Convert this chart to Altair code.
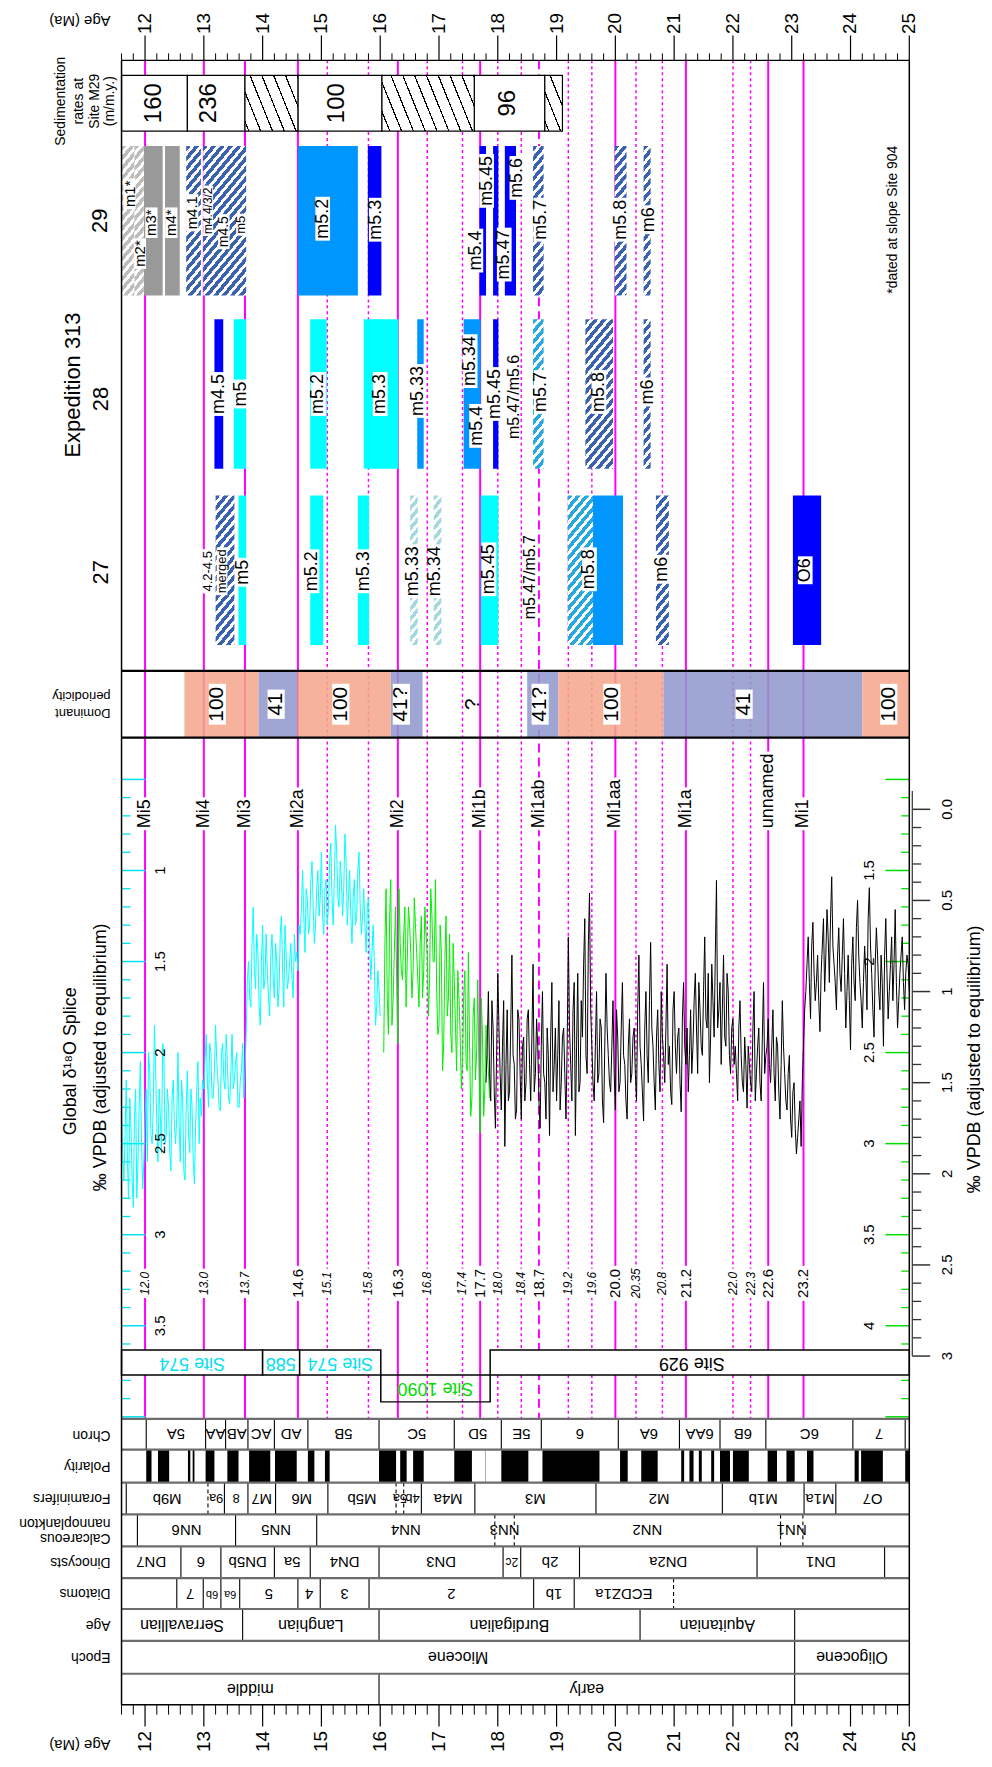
import math
import altair as alt
import pandas as pd

FONT = "Liberation Sans"

# ======================= DATA =======================
AGE_MAJOR = list(range(12, 26))
AGE_MINOR = [round(11.6 + 0.2 * i, 1) for i in range(68)]

LINE_AGES = [12.0, 13.0, 13.7, 14.6, 15.1, 15.8, 16.3, 16.8, 17.4, 17.7, 18.0, 18.4, 18.7,
             19.2, 19.6, 20.0, 20.35, 20.8, 21.2, 22.0, 22.3, 22.6, 23.2]
LINE_TEXT = ["12.0", "13.0", "13.7", "14.6", "15.1", "15.8", "16.3", "16.8", "17.4", "17.7", "18.0",
             "18.4", "18.7", "19.2", "19.6", "20.0", "20.35", "20.8", "21.2", "22.0", "22.3", "22.6", "23.2"]
LINE_KIND = ["solid", "solid", "solid", "solid", "dot", "dot", "solid", "dot", "dot", "solid", "dot",
             "dot", "dash", "dot", "dot", "solid", "dot", "dot", "solid", "dot", "dot", "solid", "solid"]
LINE_LABEL_BIG = [14.6, 16.3, 17.7, 18.7, 20.0, 21.2, 22.6, 23.2]

MI_AGES = [12.0, 13.0, 13.7, 14.6, 16.3, 17.7, 18.7, 20.0, 21.2, 22.6, 23.2]
MI_NAMES = ["Mi5", "Mi4", "Mi3", "Mi2a", "Mi2", "Mi1b", "Mi1ab", "Mi1aa", "Mi1a", "unnamed", "Mi1"]

SED_START = [11.6, 12.72, 13.70, 14.60, 16.03, 17.60, 18.80]
SED_END = [12.72, 13.70, 14.60, 16.03, 17.60, 18.80, 19.10]
SED_RATE = ["160", "236", "", "100", "", "96", ""]
SED_RATE_AGE = [12.16, 13.08, 0, 15.27, 0, 18.17, 0]

EXP_BARS = {
    29: dict(start=[11.60, 11.82, 11.98, 12.34, 12.70, 12.99, 14.60, 15.79, 17.69, 17.92, 18.12, 18.60, 19.99, 20.48],
             end=[11.82, 11.98, 12.30, 12.59, 12.95, 13.72, 15.62, 16.02, 17.80, 18.01, 18.31, 18.78, 20.19, 20.60],
             fill=["lgray_h", "lgray_h", "gray", "gray", "blue_h", "blue_h", "dodger", "blue", "blue", "blue",
                   "blue", "blue_h", "blue_h", "blue_h"]),
    28: dict(start=[13.18, 13.51, 14.81, 15.72, 16.63, 17.42, 17.92, 18.60, 19.49, 20.48],
             end=[13.33, 13.72, 15.09, 16.31, 16.74, 17.71, 18.01, 18.78, 19.96, 20.60],
             fill=["blue", "cyan", "cyan", "cyan", "dodger", "dodger", "blue", "lblue_h", "blue_h", "blue_h"]),
    27: dict(start=[13.20, 13.59, 14.81, 15.62, 16.51, 16.91, 17.71, 19.19, 19.62, 20.69, 23.02],
             end=[13.52, 13.72, 15.03, 15.81, 16.64, 17.04, 18.01, 19.62, 20.13, 20.91, 23.50],
             fill=["blue_h", "cyan", "cyan", "cyan", "pale_h", "pale_h", "cyan", "lblue_h", "dodger", "blue_h", "blue"]),
}
EXP_LABELS = {
    29: dict(text=["m1*", "m2*", "m3*", "m4*", "m4.1", "m4.4/3/2", "m4.5", "m5", "m5.2", "m5.3", "m5.4",
                   "m5.45", "m5.47", "m5.6", "m5.7", "m5.8", "m6"],
             age=[11.736, 11.913, 12.108, 12.447, 12.803, 13.074, 13.340, 13.640, 15.022, 15.933, 17.627,
                  17.810, 18.110, 18.325, 18.732, 20.094, 20.578]),
    28: dict(text=["m4.5", "m5", "m5.2", "m5.3", "m5.33", "m5.34", "m5.4", "m5.45", "m5.47/m5.6", "m5.7",
                   "m5.8", "m6"],
             age=[13.26, 13.64, 14.95, 16.00, 16.65, 17.53, 17.64, 17.95, 18.28, 18.74, 19.72, 20.56]),
    27: dict(text=["4.2-4.5", "merged", "m5", "m5.2", "m5.3", "m5.33", "m5.34", "m5.45", "m5.47/m5.7",
                   "m5.8", "m6", "O6"],
             age=[13.07, 13.31, 13.66, 14.84, 15.73, 16.56, 16.94, 17.85, 18.54, 19.56, 20.80, 23.23]),
}

PER_START = [12.67, 13.93, 14.59, 16.18, 16.72, 18.50, 19.03, 20.82, 24.20]
PER_END = [13.93, 14.59, 16.18, 16.72, 18.50, 19.03, 20.82, 24.20, 25.00]
PER_CYCLE = ["100", "41", "100", "41?", "?", "41?", "100", "41", "100"]
PER_LABEL_AGE = [13.23, 14.23, 15.33, 16.36, 17.58, 18.72, 19.94, 22.19, 24.65]

# delta18O splice (per mil): two interleaved sample sets,
# set A at start + 0.04*i, set B at start + 0.02 + 0.04*i
CYAN_START = 11.60
CYAN_A = [2.3, 2.7, 2.15, 2.8, 2.4, 2.85, 2.2, 2.6, 2.05, 2.75,
          2.35, 2.6, 2.1, 2.5, 1.85, 2.4, 2.2, 2.55, 2.0, 2.45, 2.3, 2.65, 2.15,
          2.5, 2.0, 2.6, 2.25, 2.7, 2.1, 2.55, 2.3, 2.72, 2.2, 2.5, 2.35,
          2.2, 1.9, 2.3, 2.0, 2.25, 1.85, 2.15, 2.32, 1.95, 2.2, 2.05, 2.28, 1.9, 2.15, 2.0, 2.3, 2.1, 2.25,
          1.9, 1.5, 1.75, 1.2, 1.65, 1.45, 1.85, 1.3, 1.6, 1.55, 1.8, 1.35, 1.7, 1.5, 1.65, 1.25, 1.75,
          1.45, 1.6, 1.4, 1.7, 1.5, 1.55,
          1.35, 1.0, 1.45, 1.15, 1.3, 0.95, 1.4, 1.1, 1.25, 0.9, 1.35, 1.05, 1.2, 0.85, 1.3, 0.75, 1.15,
          0.95, 1.25, 0.8, 1.3, 1.0, 1.4, 1.05, 1.25, 0.9, 1.35, 1.1, 1.45, 1.15, 1.6, 1.3,
          1.85, 1.55, 1.8]
CYAN_B = [2.55, 2.45, 2.6, 2.25, 2.7, 2.35, 2.8, 2.3, 2.5, 2.6,
          2.2, 2.0, 2.45, 2.3, 2.1, 2.6, 2.35, 1.95, 2.5, 2.2, 2.55, 2.25, 2.4,
          2.35, 2.4, 2.15, 2.65, 2.3, 2.45, 2.2, 2.6, 2.4, 2.05, 2.25, 2.15,
          2.05, 2.15, 1.95, 2.25, 2.1, 2.05, 2.3, 2.0, 2.15, 1.9, 2.25, 2.1, 2.2, 2.05, 2.3, 2.15, 1.95, 2.1,
          1.6, 1.7, 1.4, 1.55, 1.35, 1.75, 1.5, 1.65, 1.35, 1.7, 1.45, 1.6, 1.4, 1.75, 1.35, 1.55, 1.3, 1.65,
          1.5, 1.6, 1.35, 1.45, 1.3,
          1.2, 1.25, 1.1, 1.35, 1.05, 1.2, 1.3, 1.0, 1.15, 1.25, 1.1, 1.3, 0.95, 1.15, 1.05, 0.9, 1.2, 1.05,
          1.1, 0.95, 1.15, 1.25, 1.15, 1.3, 1.0, 1.2, 1.25, 1.3, 1.2, 1.4, 1.45,
          1.5, 1.75, 1.65]
GREEN_START = 16.06
GREEN_A = [2.5, 1.6, 2.4, 1.55, 2.2, 1.7, 2.45,
           1.9, 2.1, 1.7, 2.0, 1.8, 2.2, 1.65, 1.95, 2.25, 1.75, 2.05, 1.85, 2.3, 1.6, 2.0,
           1.55, 2.4, 1.8, 2.6, 2.0, 2.3, 1.85, 2.5, 2.1, 2.6, 2.2,
           2.7, 2.2, 2.55, 1.95, 2.85, 2.3, 2.65, 2.1, 2.94, 2.4, 2.7, 2.5, 2.75]
GREEN_B = [1.9, 2.2, 1.75, 2.35, 1.95, 2.1,
           1.6, 2.05, 1.85, 2.25, 1.7, 1.95, 2.05, 1.8, 2.1, 1.9, 2.2, 1.7, 1.95, 2.1, 1.75,
           2.0, 2.15, 2.35, 1.95, 2.45, 1.75, 2.2, 2.4, 1.9, 2.35, 2.05,
           2.4, 2.55, 2.05, 2.6, 2.45, 2.75, 2.2, 2.5, 2.6, 2.2, 2.85, 2.35, 2.6]
BLACK_START = 17.80
BLACK_A = [1.5, 1.0, 1.6, 1.2, 1.75, 0.9, 1.45, 1.3, 1.85, 1.1, 1.55, 0.8, 1.4, 1.65, 1.15, 1.7, 1.25, 1.5,
           1.1, 1.6, 0.85, 1.45, 1.3, 1.75, 1.0, 1.5, 1.2, 1.79, 0.95, 1.4, 1.6, 1.05, 1.5,
           1.2, 1.7, 0.7, 1.4, 1.1, 1.79, 0.9, 1.5, 1.25, 0.6, 1.45, 0.46, 1.3,
           1.6, 1.0, 1.45, 1.2, 1.72, 0.9, 1.35, 1.55, 1.05, 1.65, 1.25, 1.5, 0.95, 1.4, 1.7, 1.15, 1.45,
           1.2, 1.6, 0.8, 1.4, 1.71, 1.0, 1.5, 0.73, 1.3, 1.65, 1.1, 1.55, 1.25,
           1.5, 0.85, 1.3, 1.62, 1.0, 1.45, 1.2, 1.66, 0.95, 1.4, 1.55, 1.1,
           1.3, 0.9, 1.45, 1.1, 1.35, 0.7, 1.2, 1.5, 0.85, 1.25, 0.39, 1.1, 1.4, 0.8, 1.3, 1.0, 1.45, 1.15,
           1.3, 1.6, 1.05, 1.5, 1.25, 1.64, 1.4, 1.55, 1.0, 1.45, 1.2, 1.6, 0.95, 1.35, 1.15,
           1.5, 1.1, 1.6, 1.3, 1.7, 1.05, 1.45, 1.65, 1.35, 1.8, 1.5, 1.89, 1.7, 1.85, 1.3,
           1.0, 0.7, 1.15, 0.62, 1.05, 0.8, 1.22, 0.75, 1.0, 0.55, 0.95, 0.37, 0.85, 1.1, 0.65,
           1.0, 0.6, 1.2, 0.8, 1.32, 0.7, 1.05, 0.5, 0.95, 1.2, 0.75, 1.1, 0.43, 0.9, 1.25, 0.65, 1.0, 0.8,
           1.3, 0.6, 1.15, 0.85, 1.05, 0.55, 1.2, 0.9, 0.7, 1.1, 0.8, 1.0]
BLACK_B = [1.3, 1.45, 1.05, 1.55, 1.35, 1.2, 1.65, 1.05, 1.4, 1.6, 1.2, 1.35, 1.7, 1.1, 1.45, 1.3, 1.6, 1.15,
           1.4, 1.25, 1.55, 1.15, 1.6, 1.3, 1.45, 1.7, 1.35, 1.25, 1.55, 1.2, 1.35, 1.65, 1.25,
           1.45, 1.3, 1.2, 1.6, 0.95, 1.3, 1.55, 1.05, 0.85, 1.35, 0.75, 1.1, 1.5,
           1.3, 1.5, 1.15, 1.6, 1.3, 1.2, 1.5, 1.3, 1.45, 1.1, 1.55, 1.2, 1.35, 1.6, 1.3, 1.5, 1.25,
           1.45, 1.1, 1.3, 1.55, 1.2, 1.35, 1.05, 1.2, 1.5, 1.25, 1.4, 1.0, 1.35,
           1.2, 1.4, 1.55, 1.1, 1.3, 1.25, 1.5, 1.15, 1.3, 1.2, 1.35, 1.45,
           1.05, 1.2, 0.95, 1.3, 1.0, 1.15, 0.9, 1.25, 1.05, 0.8, 1.2, 0.95, 1.1, 1.25, 0.9, 1.35, 1.2, 1.4,
           1.45, 1.2, 1.35, 1.55, 1.4, 1.3, 1.5, 1.2, 1.6, 1.3, 1.5, 1.25, 1.45, 1.3, 1.4,
           1.3, 1.45, 1.25, 1.55, 1.4, 1.3, 1.6, 1.45, 1.7, 1.55, 1.75, 1.8, 1.6, 1.5, 1.1,
           0.85, 0.95, 0.75, 0.9, 0.95, 1.05, 0.9, 0.6, 0.8, 0.7, 0.6, 0.75, 0.95, 0.8, 0.9,
           0.8, 0.9, 1.0, 1.05, 0.85, 0.95, 0.65, 0.8, 1.05, 0.95, 0.9, 0.6, 0.75, 1.1, 0.85, 0.8, 1.1, 0.95,
           0.8, 0.9, 1.0, 0.7, 0.85, 0.95, 1.05, 0.8, 0.95, 0.9, 0.85]
STEP = 0.04

CYAN_TICKS = [round(0.5 + 0.1 * i, 1) for i in range(36)]
CYAN_LABELS = ["1", "1.5", "2", "2.5", "3", "3.5"]
GREEN_TICKS = [round(1.0 + 0.1 * i, 1) for i in range(36)]
GREEN_LABELS = ["1.5", "2", "2.5", "3", "3.5", "4"]
BLACK_TICKS = [round(0.1 * i, 1) for i in range(31)]
BLACK_LABELS = ["0.0", "0.5", "1", "1.5", "2", "2.5", "3"]

SITE_START = [11.6, 14.00, 14.63, 17.87]
SITE_END = [14.00, 14.63, 16.01, 25.0]
SITE_NAME = ["Site 574", "588", "Site 574", "Site 929"]
SITE_LABEL_AGE = [12.80, 14.31, 15.32, 21.30]
SITE1090 = (16.01, 17.87, "Site 1090", 16.94)

CHRON_B = [11.6, 12.02, 13.03, 13.37, 13.75, 14.20, 14.77, 15.98, 17.26, 18.06, 18.74, 20.05, 21.09,
           21.78, 22.56, 24.04, 24.93, 25.0]
CHRON_N = ["", "5A", "AA", "AB", "AC", "AD", "5B", "5C", "5D", "5E", "6", "6A", "6AA", "6B", "6C", "7", ""]
POL_START = [12.02, 12.22, 12.73, 12.81, 13.03, 13.40, 13.77, 14.21, 14.77, 15.06, 15.98, 16.34, 16.56,
             17.26, 18.06, 18.76, 20.08, 20.44, 21.12, 21.26, 21.42, 21.63, 21.78, 22.00, 22.59, 22.91,
             23.26, 24.07, 24.18, 24.93]
POL_END = [12.11, 12.41, 12.77, 12.84, 13.18, 13.59, 14.13, 14.58, 14.88, 15.14, 16.27, 16.45, 16.74,
           17.56, 18.52, 19.73, 20.21, 20.72, 21.17, 21.33, 21.47, 21.68, 21.95, 22.27, 22.75, 23.05,
           23.37, 24.14, 24.55, 25.00]
FORAM_B = [11.6, 11.68, 13.07, 13.35, 13.75, 14.22, 15.11, 16.27, 16.40, 16.70, 17.61, 19.67, 21.82,
           23.21, 23.75, 25.0]
FORAM_N = ["", "M9b", "9a", "8", "M7", "M6", "M5b", "5a", "4b", "M4a", "M3", "M2", "M1b", "M1a", "O7"]
FORAM_DASH = [13.07, 16.27, 16.40]
NANNO_B = [11.6, 11.87, 13.54, 14.92, 17.95, 18.28, 22.81, 23.19, 25.0]
NANNO_N = ["", "NN6", "NN5", "NN4", "NN3", "NN2", "NN1", ""]
NANNO_DASH = [17.95, 18.28, 22.81, 23.19]
DINO_B = [11.6, 12.61, 13.29, 14.20, 14.81, 15.98, 18.09, 18.39, 19.39, 22.41, 24.58, 25.0]
DINO_N = ["DN7", "6", "DN5b", "5a", "DN4", "DN3", "2c", "2b", "DN2a", "DN1", ""]
DIAT_B = [11.6, 12.54, 12.99, 13.29, 13.61, 14.60, 14.98, 15.81, 18.61, 19.30, 20.99, 25.0]
DIAT_N = ["", "7", "6b", "6a", "5", "4", "3", "2", "1b", "ECDZ1a", ""]
DIAT_DASH = [20.99]
STAGE_B = [11.6, 13.66, 15.98, 20.42, 23.05, 25.0]
STAGE_N = ["Serravallian", "Langhian", "Burdigalian", "Aquitanian", ""]
EPOCH_B = [11.6, 23.05, 25.0]
EPOCH_N = ["Miocene", "Oligocene"]
SUB_B = [11.6, 15.98, 23.05, 25.0]
SUB_N = ["middle", "early", ""]

# ======================= LAYOUT / STYLE =======================
PLOT_W, PLOT_H = 791, 1751
X_MIN, X_MAX = 11.6, 25.0
PXMA = PLOT_W / (X_MAX - X_MIN)
XS = alt.Scale(domain=[X_MIN, X_MAX], nice=False, zero=False)

FRAME_TOP, AXIS_BOT = 57, 1708
SED_Y = (72, 128)
COL_Y = {29: (143, 293), 28: (317, 467), 27: (494, 644)}
PER_Y = (670, 737)
D18_BOT = 1421
SITE_Y1, SITE_Y2 = (1352, 1377), (1377, 1404)
ROWS = dict(chron=(1421, 1452), pol=(1452, 1485), foram=(1485, 1517), nanno=(1517, 1549),
            dino=(1549, 1581), diat=(1581, 1612), stage=(1612, 1644), epoch=(1644, 1677), sub=(1677, 1708))

LABEL_Y = {29: [191, 251, 220, 220, 210, 208, 229, 222, 216, 217, 248, 178, 252, 175, 217, 217, 217],
           28: [392, 392, 392, 392, 389, 359, 424, 392, 395, 390, 390, 390],
           27: [570, 570, 571, 570, 570, 570, 570, 568, 576, 568, 568, 569]}
LABEL_SIZE = {29: [15, 15, 15, 15, 15, 12, 14, 13, 18, 18, 18, 18, 18, 18, 18, 18, 18],
              28: [18, 18, 18, 18, 18, 18, 18, 18, 16, 18, 18, 18],
              27: [13, 13, 18, 18, 18, 18, 18, 18, 16, 18, 18, 18]}
NO_BG = {"m5.47/m5.6", "m5.47/m5.7"}

MAGENTA = "#ff00ff"
SOLID = {"blue": "#0000ff", "dodger": "#0096ff", "cyan": "#00ffff", "gray": "#999999"}
HATCH = {"blue_h": ("#3a62ae", "#ffffff"), "lblue_h": ("#27a9dd", "#ffffff"),
         "pale_h": ("#a3d9de", "#ffffff"), "lgray_h": ("#bdbdbd", "#ffffff")}
SALMON, LAVENDER = "#f6a58b", "#9097cc"
CYAN_C, GREEN_C = "#00e0ee", "#00dd00"

CW = {'.': 0.278, ' ': 0.278, '*': 0.389, '/': 0.278, '-': 0.333, 'm': 0.833, 'M': 0.833, 'i': 0.222,
      'l': 0.222, 'O': 0.778, 'r': 0.333, '?': 0.556}


def tlen(s, size):
    return sum(CW.get(c, 0.556) for c in s) * size


def py(page_y):
    return page_y - 8


def ax(page_x):
    return X_MIN + (page_x - 122) / PXMA


def XQ(f):
    return alt.X(f, scale=XS, axis=None)


def YP(f):
    return alt.Y(f, scale=None, axis=None)


def rect(df, **mk):
    return alt.Chart(df).mark_rect(**mk).encode(x=XQ('x1:Q'), x2='x2:Q', y=YP('y1:Q'), y2='y2:Q')


def rect_c(df, **mk):
    return alt.Chart(df).mark_rect(**mk).encode(x=XQ('x1:Q'), x2='x2:Q', y=YP('y1:Q'), y2='y2:Q',
                                                color=alt.Color('c:N', scale=None, legend=None))


def vrule(ages, y1, y2, color="black", width=1.0, dash=None):
    df = pd.DataFrame({'x': list(ages), 'y1': py(y1), 'y2': py(y2)})
    mk = dict(color=color, strokeWidth=width)
    if dash:
        mk['strokeDash'] = dash
    return alt.Chart(df).mark_rule(**mk).encode(x=XQ('x:Q'), y=YP('y1:Q'), y2='y2:Q')


def hrule(y, color="black", width=1.0, x1=X_MIN, x2=X_MAX):
    df = pd.DataFrame({'x1': [x1], 'x2': [x2], 'y': [py(y)]})
    return alt.Chart(df).mark_rule(color=color, strokeWidth=width).encode(x=XQ('x1:Q'), x2='x2:Q', y=YP('y:Q'))


def text(xs, ys, texts, angle=270, align="center", baseline="middle", size=14, color="black",
         style="normal", colors=None):
    n = len(texts)
    if not isinstance(ys, (list, tuple)):
        ys = [ys] * n
    df = pd.DataFrame({'x': list(xs), 'y': [py(v) for v in ys], 't': list(texts)})
    mk = dict(angle=angle, align=align, baseline=baseline, fontSize=size, font=FONT, fontStyle=style)
    enc = dict(x=XQ('x:Q'), y=YP('y:Q'), text='t:N')
    if colors is not None:
        df['c'] = colors
        enc['color'] = alt.Color('c:N', scale=None, legend=None)
    else:
        mk['color'] = color
    return alt.Chart(df).mark_text(**mk).encode(**enc)


def bg_boxes(xs, ycs, texts, sizes, pad=3):
    rows = []
    for x, yc, t, s in zip(xs, ycs, texts, sizes):
        half_w = (0.82 * s) / 2 / PXMA
        L = tlen(t, s)
        rows.append(dict(x1=x - half_w, x2=x + half_w, y1=py(yc - L / 2 - pad), y2=py(yc + L / 2 + pad)))
    return rect(pd.DataFrame(rows), fill="white")


def hatch(w, h, c1, c2, period=6.0, frac=0.5, angle=45):
    a = math.radians(angle)
    d = (math.cos(a), -math.sin(a))
    n = (-d[1], d[0])
    corners = [(0, 0), (w, 0), (0, h), (w, h)]
    proj = [n[0] * cx + n[1] * cy for cx, cy in corners]
    pmin, pmax = min(proj), max(proj)
    c0 = corners[proj.index(pmin)]
    L = pmax - pmin
    k = L / (n[0] ** 2 * w ** 2 + n[1] ** 2 * h ** 2)
    u0, v0 = c0[0] / w, c0[1] / h
    x2, y2 = u0 + k * n[0] * w, v0 + k * n[1] * h
    stops = []
    i = 0
    while i * period < L:
        s = i * period / L
        m = min((i * period + frac * period) / L, 1.0)
        e = min((i + 1) * period / L, 1.0)
        stops += [(s, c1), (m, c1), (m, c2), (e, c2)]
        i += 1
    return alt.LinearGradient(gradient="linear", x1=u0, y1=v0, x2=x2, y2=y2,
                              stops=[alt.GradientStop(color=c, offset=round(o, 5)) for o, c in stops])


def hatched_rect(a1, a2, y1, y2, c1, c2, period=6.0, frac=0.5, angle=45, stroke=None):
    w = (a2 - a1) * PXMA
    h = y2 - y1
    mk = dict(fill=hatch(w, h, c1, c2, period, frac, angle))
    if stroke:
        mk.update(stroke=stroke, strokeWidth=1.2)
    return rect(pd.DataFrame({'x1': [a1], 'x2': [a2], 'y1': [py(y1)], 'y2': [py(y2)]}), **mk)


layers = []

# ---------------- magenta event lines ----------------
for kind, w, dash in [("solid", 2.0, None), ("dot", 1.5, [3, 3]), ("dash", 2.0, [9, 5])]:
    ages = [a for a, k in zip(LINE_AGES, LINE_KIND) if k == kind]
    layers.append(vrule(ages, FRAME_TOP, D18_BOT, MAGENTA, w, dash))

# ---------------- sedimentation rates ----------------
sed_plain = pd.DataFrame({'x1': [s for s, r in zip(SED_START, SED_RATE) if r],
                          'x2': [e for e, r in zip(SED_END, SED_RATE) if r]})
sed_plain['y1'], sed_plain['y2'] = py(SED_Y[0]), py(SED_Y[1])
layers.append(rect(sed_plain, fill="white", stroke="black", strokeWidth=1.2))
for s, e, r in zip(SED_START, SED_END, SED_RATE):
    if not r:
        layers.append(hatched_rect(s, e, SED_Y[0], SED_Y[1], "#000000", "#ffffff", period=11.0,
                                   frac=0.11, angle=-68, stroke="black"))
layers.append(text([a for a, r in zip(SED_RATE_AGE, SED_RATE) if r], sum(SED_Y) / 2,
                   [r for r in SED_RATE if r], size=24))

# ---------------- expedition 313 bars ----------------
for col, bars in EXP_BARS.items():
    y1, y2 = COL_Y[col]
    solid_rows = [dict(x1=s, x2=e, y1=py(y1), y2=py(y2), c=SOLID[f])
                  for s, e, f in zip(bars['start'], bars['end'], bars['fill']) if f in SOLID]
    layers.append(rect_c(pd.DataFrame(solid_rows)))
    for s, e, f in zip(bars['start'], bars['end'], bars['fill']):
        if f in HATCH:
            c1, c2 = HATCH[f]
            layers.append(hatched_rect(s, e, y1, y2, c1, c2, period=6.5, frac=0.55, angle=50))

for col, lab in EXP_LABELS.items():
    ys, sizes = LABEL_Y[col], LABEL_SIZE[col]
    bg = [(a, y, t, s) for a, y, t, s in zip(lab['age'], ys, lab['text'], sizes) if t not in NO_BG]
    layers.append(bg_boxes([b[0] for b in bg], [b[1] for b in bg], [b[2] for b in bg], [b[3] for b in bg],
                           pad=2))
    for size in sorted(set(sizes)):
        idx = [i for i, s in enumerate(sizes) if s == size]
        layers.append(text([lab['age'][i] for i in idx], [ys[i] for i in idx],
                           [lab['text'][i] for i in idx], size=size))

# ---------------- dominant periodicity ----------------
per_rows = [dict(x1=s, x2=e, y1=py(PER_Y[0]), y2=py(PER_Y[1]), c=(SALMON if c == "100" else LAVENDER))
            for s, e, c in zip(PER_START, PER_END, PER_CYCLE) if c != "?"]
layers.append(rect_c(pd.DataFrame(per_rows), opacity=0.86))
per_yc = sum(PER_Y) / 2
per_lab = [(a, c) for a, c in zip(PER_LABEL_AGE, PER_CYCLE) if c != "?"]
layers.append(bg_boxes([p[0] for p in per_lab], [per_yc] * len(per_lab), [p[1] for p in per_lab],
                       [21] * len(per_lab), pad=3))
layers.append(text(PER_LABEL_AGE, per_yc, PER_CYCLE, size=21))

# ---------------- event labels (Mi) and age labels ----------------
MI_BASE = 828
mi_rows = []
for a, t in zip(MI_AGES, MI_NAMES):
    L = tlen(t, 18)
    mi_rows.append(dict(x1=a - 8 / PXMA, x2=a + 8 / PXMA, y1=py(MI_BASE - L - 2), y2=py(MI_BASE + 2)))
layers.append(rect(pd.DataFrame(mi_rows), fill="white"))
layers.append(text(MI_AGES, MI_BASE, MI_NAMES, align="left", size=18))

VAL_Y = 1285
big = [i for i, a in enumerate(LINE_AGES) if a in LINE_LABEL_BIG]
small = [i for i, a in enumerate(LINE_AGES) if a not in LINE_LABEL_BIG]
layers.append(bg_boxes([LINE_AGES[i] for i in big], [VAL_Y] * len(big), [LINE_TEXT[i] for i in big],
                       [15] * len(big), pad=3))
layers.append(bg_boxes([LINE_AGES[i] for i in small], [VAL_Y] * len(small), [LINE_TEXT[i] for i in small],
                       [12] * len(small), pad=3))
layers.append(text([LINE_AGES[i] for i in big], VAL_Y, [LINE_TEXT[i] for i in big], size=15))
layers.append(text([LINE_AGES[i] for i in small], VAL_Y, [LINE_TEXT[i] for i in small], size=12,
                   style="italic"))


# ---------------- delta 18O series ----------------
def series_df(start, vals_a, vals_b):
    ages = [round(start + STEP * i, 3) for i in range(len(vals_a))]
    ages += [round(start + STEP / 2 + STEP * i, 3) for i in range(len(vals_b))]
    df = pd.DataFrame({'age': ages, 'v': list(vals_a) + list(vals_b)})
    return df.sort_values('age').reset_index(drop=True)


def d18_group(df, color, scale, ticks, major_x, minor_x, tick_color, lab_vals, lab_text, lab_x,
              spine=None, label_bg=False):
    Y = lambda f: alt.Y(f, scale=scale, axis=None)
    parts = []
    maj = pd.DataFrame({'v': [t for t in ticks if abs(t * 2 - round(t * 2)) < 1e-6]})
    mnr = pd.DataFrame({'v': [t for t in ticks if abs(t * 2 - round(t * 2)) >= 1e-6]})
    parts.append(alt.Chart(mnr).mark_rule(color=tick_color, strokeWidth=1.3).encode(
        y=Y('v:Q'), x=alt.value(minor_x[0]), x2=alt.value(minor_x[1])))
    parts.append(alt.Chart(maj).mark_rule(color=tick_color, strokeWidth=1.5).encode(
        y=Y('v:Q'), x=alt.value(major_x[0]), x2=alt.value(major_x[1])))
    if spine:
        parts.append(alt.Chart(pd.DataFrame({'v': [spine[0]], 'v2': [spine[1]]})).mark_rule(
            color=tick_color, strokeWidth=1.2).encode(y=Y('v:Q'), y2='v2:Q', x=alt.value(major_x[0])))
    parts.append(alt.Chart(df).mark_line(color=color, strokeWidth=1).encode(x=XQ('age:Q'), y=Y('v:Q')))
    lab = pd.DataFrame({'v': lab_vals, 't': lab_text})
    if label_bg:
        parts.append(alt.Chart(lab).mark_point(shape="square", size=220, filled=True, color="white",
                                               opacity=1).encode(y=Y('v:Q'), x=alt.value(lab_x)))
    parts.append(alt.Chart(lab).mark_text(angle=270, align="center", baseline="middle", fontSize=15,
                                          font=FONT, color="black").encode(
        y=Y('v:Q'), x=alt.value(lab_x), text='t:N'))
    return alt.layer(*parts)


cyan_scale = alt.Scale(domain=[0.5, 4.0], range=[py(779), py(1419)], nice=False, zero=False)
green_scale = alt.Scale(domain=[1.0, 4.5], range=[py(779), py(1419)], nice=False, zero=False)
black_scale = alt.Scale(domain=[0.0, 3.0], range=[py(809), py(1358)], nice=False, zero=False)

g_cyan = d18_group(series_df(CYAN_START, CYAN_A, CYAN_B), "#00ffff", cyan_scale, CYAN_TICKS, (0, 24), (0, 9),
                   CYAN_C, [1, 1.5, 2, 2.5, 3, 3.5], CYAN_LABELS, 39)
g_green = d18_group(series_df(GREEN_START, GREEN_A, GREEN_B), "#00ee00", green_scale, GREEN_TICKS, (767, 791),
                    (783, 791), GREEN_C, [1.5, 2, 2.5, 3, 3.5, 4], GREEN_LABELS, 751, label_bg=True)
g_black = d18_group(series_df(BLACK_START, BLACK_A, BLACK_B), "black", black_scale, BLACK_TICKS, (794, 812),
                    (794, 803), "#333333", [0, 0.5, 1, 1.5, 2, 2.5, 3], BLACK_LABELS, 829, spine=(-0.1, 3.0))
layers += [g_cyan, g_green, g_black]

# ---------------- site boxes ----------------
site_df = pd.DataFrame({'x1': SITE_START, 'x2': SITE_END})
site_df['y1'], site_df['y2'] = py(SITE_Y1[0]), py(SITE_Y1[1])
layers.append(rect(site_df, fill="white", stroke="black", strokeWidth=1.5))
s1090 = pd.DataFrame({'x1': [SITE1090[0]], 'x2': [SITE1090[1]], 'y1': [py(SITE_Y2[0])], 'y2': [py(SITE_Y2[1])]})
layers.append(rect(s1090, fillOpacity=0, stroke="black", strokeWidth=1.5))
layers.append(text(SITE_LABEL_AGE, sum(SITE_Y1) / 2, SITE_NAME, angle=180, size=18,
                   colors=[CYAN_C, CYAN_C, CYAN_C, "black"]))
layers.append(text([SITE1090[3]], sum(SITE_Y2) / 2, [SITE1090[2]], angle=180, size=18, color=GREEN_C))

# ---------------- stratigraphic rows ----------------
pol_df = pd.DataFrame({'x1': POL_START, 'x2': POL_END})
pol_df['y1'], pol_df['y2'] = py(ROWS['pol'][0]), py(ROWS['pol'][1])
layers.append(rect(pol_df, fill="black"))
layers.append(vrule([17.79], ROWS['pol'][0], ROWS['pol'][1], "#aaaaaa", 1))


def strata(bounds, names, row, dashed=(), size=15, small=(), small_size=12):
    y1, y2 = ROWS[row]
    inner = bounds[1:-1]
    out = []
    sol = [b for b in inner if b not in dashed]
    das = [b for b in inner if b in dashed]
    if sol:
        out.append(vrule(sol, y1, y2, "black", 1.1))
    if das:
        out.append(vrule(das, y1, y2, "black", 1.1, [4, 3]))
    cx = [(a + b) / 2 for a, b in zip(bounds[:-1], bounds[1:])]
    big_i = [i for i, t in enumerate(names) if t and t not in small]
    sm_i = [i for i, t in enumerate(names) if t and t in small]
    if big_i:
        out.append(text([cx[i] for i in big_i], (y1 + y2) / 2, [names[i] for i in big_i], angle=180, size=size))
    if sm_i:
        out.append(text([cx[i] for i in sm_i], (y1 + y2) / 2, [names[i] for i in sm_i], angle=180,
                        size=small_size))
    return out


layers += strata(CHRON_B, CHRON_N, 'chron', size=15)
layers += strata(FORAM_B, FORAM_N, 'foram', FORAM_DASH, size=15, small=("9a", "8", "5a", "4b"), small_size=13)
layers += strata(NANNO_B, NANNO_N, 'nanno', NANNO_DASH, size=15)
layers += strata(DINO_B, DINO_N, 'dino', size=15, small=("2c",), small_size=12)
layers += strata(DIAT_B, DIAT_N, 'diat', DIAT_DASH, size=15, small=("6b", "6a"), small_size=11)
layers += strata(STAGE_B, STAGE_N, 'stage', size=16)
layers += strata(EPOCH_B, EPOCH_N, 'epoch', size=16)
layers += strata(SUB_B, SUB_N, 'sub', size=16)

for r in ['chron', 'pol', 'foram', 'nanno', 'dino', 'diat', 'stage', 'epoch', 'sub']:
    layers.append(hrule(ROWS[r][0], "#6d6d6d", 2.2))

# ---------------- frame and age axes ----------------
layers.append(hrule(FRAME_TOP, "black", 1.5))
layers.append(hrule(AXIS_BOT, "black", 1.5))
layers.append(hrule(PER_Y[0], "black", 2.2))
layers.append(hrule(PER_Y[1], "black", 2.2))
layers.append(vrule([X_MIN, X_MAX], FRAME_TOP, AXIS_BOT, "black", 1.5))

minor = [a for a in AGE_MINOR if abs(a - round(a)) > 1e-6]
layers.append(vrule(AGE_MAJOR, 32, FRAME_TOP, "black", 1.2))
layers.append(vrule(minor, 50, FRAME_TOP, "black", 1.0))
layers.append(vrule(AGE_MAJOR, AXIS_BOT, 1730, "black", 1.2))
layers.append(vrule(minor, AXIS_BOT, 1718, "black", 1.0))
layers.append(text(AGE_MAJOR, 20, [str(a) for a in AGE_MAJOR], size=19))
layers.append(text(AGE_MAJOR, 1745, [str(a) for a in AGE_MAJOR], size=19))

# ---------------- panel titles ----------------
RX = ax(111)
layers.append(text([RX, RX], [17, 1749], ["Age (Ma)", "Age (Ma)"], angle=180, align="left", size=15))
layers.append(text([ax(61), ax(79), ax(95), ax(110)], 98, ["Sedimentation", "rates at", "Site M29", "(m/m.y.)"],
                   size=14))
layers.append(text([ax(100), ax(101), ax(101)], [218, 397, 571], ["29", "28", "27"], size=22))
layers.append(text([ax(73)], 383, ["Expedition 313"], size=22))
layers.append(text([ax(897)], 217, ["*dated at slope Site 904"], size=14))
layers.append(text([RX, RX], [695, 712], ["periodicity", "Dominant"], angle=180, align="left", size=13))
layers.append(text([ax(71)], 1062, ["Global δ¹⁸O Splice"], size=18))
layers.append(text([ax(101), ax(979)], [1058, 1060], ["‰ VPDB (adjusted to equilibrium)"] * 2, size=18))
row_lab = [("Chron", 1437), ("Polarity", 1468), ("Foraminifers", 1501), ("nannoplankton", 1526),
           ("Calcareous", 1541), ("Dinocysts", 1565), ("Diatoms", 1596), ("Age", 1628), ("Epoch", 1660)]
layers.append(text([RX] * len(row_lab), [r[1] for r in row_lab], [r[0] for r in row_lab], angle=180,
                   align="left", size=14))

chart = alt.layer(*layers).resolve_scale(y="independent").properties(
    width=PLOT_W, height=PLOT_H,
    autosize=alt.AutoSizeParams(type="none"),
    padding={"left": 114, "top": 0, "right": 75, "bottom": 0},
).configure_view(stroke=None)

chart.save("out.html", embed_options={"renderer": "svg", "actions": False})
